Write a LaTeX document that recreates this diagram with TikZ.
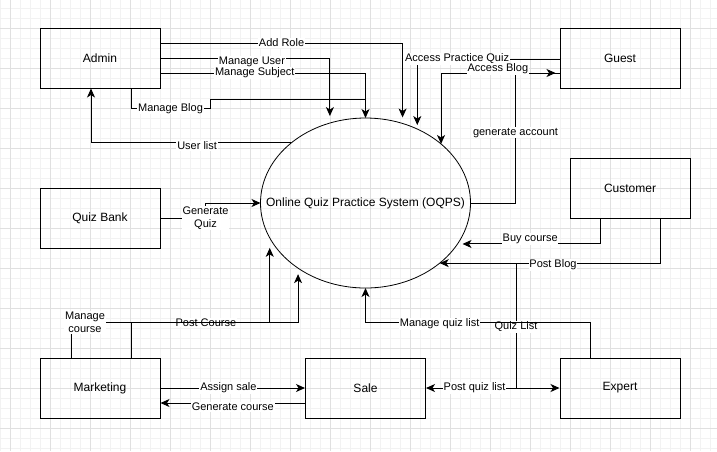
\documentclass[tikz,border=0pt]{standalone}
\usepackage{fontspec}
\setmainfont{Liberation Sans}
\usetikzlibrary{arrows.meta, shapes.geometric}

\begin{document}
\begin{tikzpicture}[
  x=1pt, y=-1pt,
  font=\fontsize{12}{14}\selectfont,
  entity/.style={rectangle, draw, line width=1pt, minimum width=120pt,
    minimum height=60pt, align=center},
  proc/.style={ellipse, draw, line width=0.8pt, minimum width=210pt,
    minimum height=170pt, inner sep=0pt, outer sep=0pt},
  flow/.style={line width=1pt},
  arr/.style={flow, -{Stealth[length=9pt, width=8pt, inset=2.5pt]}},
  lbl/.style={fill=white, inner sep=0.8pt, align=center,
    font=\fontsize{11}{13}\selectfont},
  minor/.style={draw=black!5, line width=0.6pt},
  major/.style={draw=black!12, line width=0.6pt}
]
\useasboundingbox (0,0) rectangle (717,451);
\foreach \gx in {0,10,...,710} \draw[minor] (\gx,0) -- (\gx,451);
\foreach \gy in {8,18,...,448} \draw[minor] (0,\gy) -- (717,\gy);
\foreach \gx in {10,50,...,690} \draw[major] (\gx,0) -- (\gx,451);
\foreach \gy in {28,68,...,428} \draw[major] (0,\gy) -- (717,\gy);

\node[entity] (admin) at (100,58) {Admin};
\node[entity] (guest) at (620,58) {Guest};
\node[entity] (qb) at (100,218) {Quiz Bank};
\node[entity] (cust) at (630,188) {Customer};
\node[proc, label=center:{Online Quiz Practice System (OQPS)}] (oqps) at (365.5,203) {};
\node[entity] (mkt) at (100,388) {Marketing};
\node[entity] (sale) at (365.5,388) {Sale};
\node[entity] (expert) at (620,388) {Expert};
\coordinate (ql) at (516,263);

\draw[arr, shorten >=6pt] ([yshift=15pt]admin.east) -| node[lbl, pos=0.25]{Add Role} (oqps.65.4);
\draw[arr, shorten >=7pt] (admin.east) -| node[lbl, pos=0.27, yshift=-4pt]{Manage User} (oqps.114.6);
\draw[arr] ([yshift=-15pt]admin.east) -| node[lbl, pos=0.23]{Manage Subject} (oqps.north);
\draw[flow] ([xshift=31pt]admin.south) |- node[lbl, pos=0.75]{Manage Blog} ++(79,20) |- ([yshift=19pt]oqps.north);
\draw[arr] (oqps.141.1) -| node[lbl, pos=0.235, yshift=-3pt]{User list} ([xshift=-9pt]admin.south);
\draw[arr, shorten >=4pt] ([yshift=-1pt]guest.west) -| node[lbl, pos=0.36]{Access Practice Quiz} (oqps.55.9);
\draw[arr, shorten >=4pt] (oqps.east) -| node[lbl, pos=0.77]{generate account} ([xshift=-44pt, yshift=-15pt]guest.west) -- ([yshift=-15pt]guest.west);
\draw[arr] ([yshift=-15pt]guest.west) -| node[lbl, pos=0.26, yshift=4pt]{Access Blog} (oqps.38.8);
\draw[arr] (qb.east) -- node[lbl, pos=1]{Generate\\Quiz} ++(45,0) |- (oqps.west);
\draw[arr, shorten >=5pt] ([xshift=-30pt]cust.south) |- node[lbl, pos=0.745, yshift=5pt]{Buy course} (oqps.336);
\draw[arr] ([xshift=30pt]cust.south) |- node[lbl, pos=0.743, yshift=-2pt]{Post Blog} (oqps.321.1);
\draw[arr] (ql) |- (expert.west);
\draw[arr] (ql) |- node[lbl, pos=0.256]{Quiz List} node[lbl, pos=0.73]{Post quiz list} (sale.east);
\draw[arr] ([xshift=-30pt]expert.north) |- node[lbl, pos=0.835, yshift=-2pt]{Manage quiz list} ([yshift=-34pt]oqps.south) -- (oqps.south);
\draw[arr, shorten >=10pt] ([xshift=31pt]mkt.north) -- ++(0,-35) -| node[lbl, pos=0.27]{Post Course} (oqps.200.3);
\draw[arr, shorten >=6pt] ([xshift=-29pt]mkt.north) -- node[lbl, pos=1, xshift=14pt]{Manage\\course} ++(0,-35) -| (oqps.224.7);
\draw[arr] (mkt.east) -- node[lbl, pos=0.47]{Assign sale} (sale.west);
\draw[arr] ([yshift=-15pt]sale.west) -- node[lbl, yshift=-4pt]{Generate course} ([yshift=-15pt]mkt.east);
\end{tikzpicture}
\end{document}
